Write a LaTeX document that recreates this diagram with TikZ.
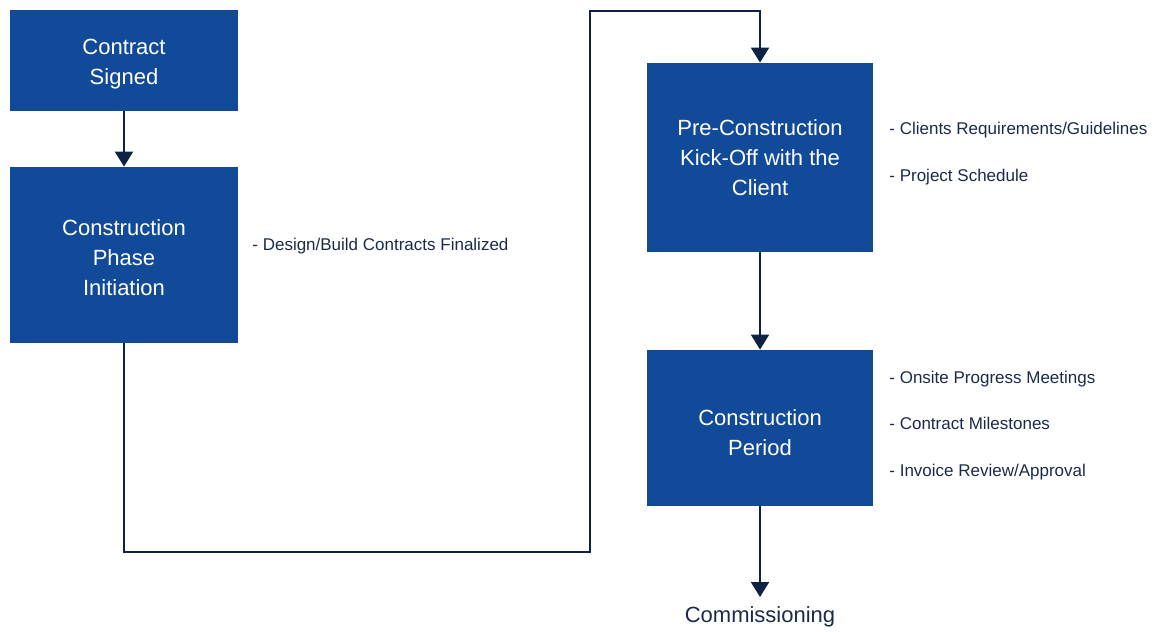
\documentclass[tikz,border=0pt]{standalone}
\usepackage{fontspec}
\setmainfont{Liberation Sans}
\usetikzlibrary{arrows.meta,positioning}

\definecolor{boxblue}{RGB}{18,74,154}
\definecolor{linenavy}{RGB}{14,34,70}
\definecolor{textnavy}{RGB}{28,42,74}
\newcommand{\topgap}[1]{\rule{0pt}{#1}}

\tikzset{
  stage/.style={draw=none, fill=boxblue, text=white, align=center,
    font=\fontsize{11}{15}\selectfont, inner sep=0pt},
  flow/.style={draw=linenavy, line width=1pt, -{Triangle[width=9pt,length=7.5pt]}},
  note/.style={anchor=base west, text=textnavy, inner sep=0pt,
    font=\fontsize{8.5}{10}\selectfont}
}

\begin{document}
\begin{tikzpicture}[x=0.5pt, y=-0.5pt]
\useasboundingbox (0,0) rectangle (1154,631);

\node[stage, minimum width=114pt, minimum height=50.5pt] (signed) at (124,60.5) {\topgap{11pt}Contract\\Signed};
\node[stage, minimum width=114pt, minimum height=88pt] (phase) at (124,255) {\topgap{10.5pt}Construction\\Phase\\Initiation};
\node[stage, minimum width=113pt, minimum height=94.5pt] (kickoff) at (760,157.5) {Pre-Construction\\Kick-Off with the\\Client};
\node[stage, minimum width=113pt, minimum height=78pt] (period) at (760,428) {\topgap{13pt}Construction\\Period};
\node[anchor=north, inner sep=0pt, text=textnavy, font=\fontsize{11}{13}\selectfont] (comm) at (760,606) {Commissioning};

\coordinate (dip) at (590,552);
\coordinate (rise) at (590,11);

\draw[flow] (signed) -- (phase);
\draw[flow] (phase.south) |- (dip) -- (rise) -| (kickoff.north);
\draw[flow] (kickoff) -- (period);
\draw[flow, shorten >=4.5pt] (period) -- (comm);

\node[note] (design) at (252,250) {- Design/Build Contracts Finalized};
\node[note] (guide) at (889,134) {- Clients Requirements/Guidelines};
\node[note] (sched) at (889,181) {- Project Schedule};
\node[note] (onsite) at (889,383) {- Onsite Progress Meetings};
\node[note] (miles) at (889,429) {- Contract Milestones};
\node[note] (invoice) at (889,476) {- Invoice Review/Approval};
\end{tikzpicture}
\end{document}
